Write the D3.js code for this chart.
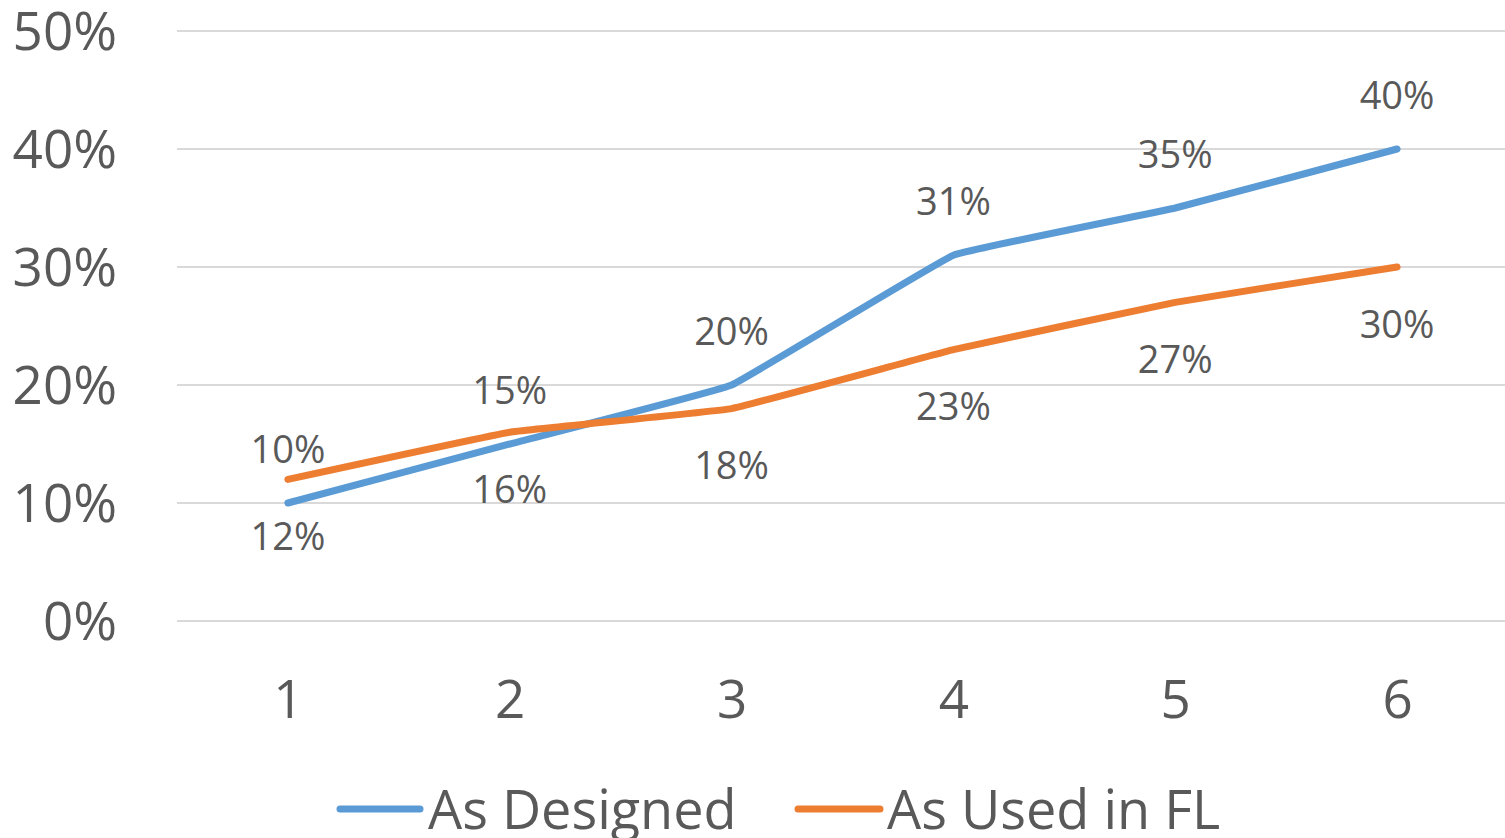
<!DOCTYPE html>
<html>
<head>
<meta charset="utf-8">
<script src="https://cdn.jsdelivr.net/npm/d3@7"></script>
<style>
  html, body { margin: 0; padding: 0; background: #fff; }
  svg { display: block; }
  text { font-family: "Open Sans", "Noto Sans", sans-serif; fill: #595959; }
</style>
</head>
<body>
<svg id="chart" width="1505" height="838"></svg>
<script>
// 数据
const categories = ["1", "2", "3", "4", "5", "6"];
const designedValues = [10, 15, 20, 31, 35, 40];
const usedValues = [12, 16, 18, 23, 27, 30];
const yTicks = [0, 10, 20, 30, 40, 50];
const seriesNames = ["As Designed", "As Used in FL"];
const seriesColors = ["#5B9BD5", "#ED7D31"];

const svg = d3.select("#chart");

// 比例尺
const x = d3.scalePoint()
    .domain(categories)
    .range([177, 1508])
    .padding(0.5);

const y = d3.scaleLinear()
    .domain([0, 50])
    .range([621, 31]);

// 网格线
svg.append("g")
    .selectAll("line")
    .data(yTicks)
    .join("line")
    .attr("x1", 177)
    .attr("x2", 1505)
    .attr("y1", d => y(d))
    .attr("y2", d => y(d))
    .style("stroke", "#D9D9D9")
    .style("stroke-width", 2);

// y轴标签
const yAxis = d3.axisLeft(y)
    .tickValues(yTicks)
    .tickFormat(d => d + "%")
    .tickSize(0)
    .tickPadding(0);
const yAxisG = svg.append("g")
    .attr("transform", "translate(117,0)")
    .call(yAxis);
yAxisG.select(".domain").remove();
yAxisG.selectAll("text")
    .attr("dy", "0.35em")
    .style("font-size", "53px")
    .style("font-family", "'Open Sans', sans-serif")
    .style("fill", "#595959");

// x轴标签
const xAxis = d3.axisBottom(x).tickSize(0).tickPadding(0);
const xAxisG = svg.append("g")
    .attr("transform", "translate(0,718)")
    .call(xAxis);
xAxisG.select(".domain").remove();
xAxisG.selectAll("text")
    .attr("dy", 0)
    .attr("y", 0)
    .style("font-size", "53px")
    .style("font-family", "'Open Sans', sans-serif")
    .style("fill", "#595959");

// 折线（轻微平滑）
const line = d3.line()
    .x((d, i) => x(categories[i]))
    .y(d => y(d))
    .curve(d3.curveCardinal.tension(0.8));

const series = [designedValues, usedValues];
svg.append("g")
    .selectAll("path")
    .data(series)
    .join("path")
    .attr("d", d => line(d))
    .style("fill", "none")
    .style("stroke", (d, i) => seriesColors[i])
    .style("stroke-width", 7)
    .style("stroke-linecap", "round")
    .style("stroke-linejoin", "round");

// 数据标签：蓝色在上方，橙色在下方
const labelOffset = [-54, 57];
series.forEach((values, s) => {
    svg.append("g")
        .selectAll("text")
        .data(values)
        .join("text")
        .attr("x", (d, i) => x(categories[i]))
        .attr("y", d => y(d) + labelOffset[s])
        .attr("dy", "0.36em")
        .attr("text-anchor", "middle")
        .style("font-size", "38px")
        .text(d => d + "%");
});

// 图例
const legendItems = [
    { x1: 340, x2: 420, tx: 428 },
    { x1: 798, x2: 880, tx: 887 }
];
const legend = svg.append("g");
legendItems.forEach((item, i) => {
    legend.append("line")
        .attr("x1", item.x1)
        .attr("x2", item.x2)
        .attr("y1", 809)
        .attr("y2", 809)
        .style("stroke", seriesColors[i])
        .style("stroke-width", 7)
        .style("stroke-linecap", "round");
    legend.append("text")
        .attr("x", item.tx)
        .attr("y", 829)
        .style("font-size", "54px")
        .text(seriesNames[i]);
});
</script>
</body>
</html>
